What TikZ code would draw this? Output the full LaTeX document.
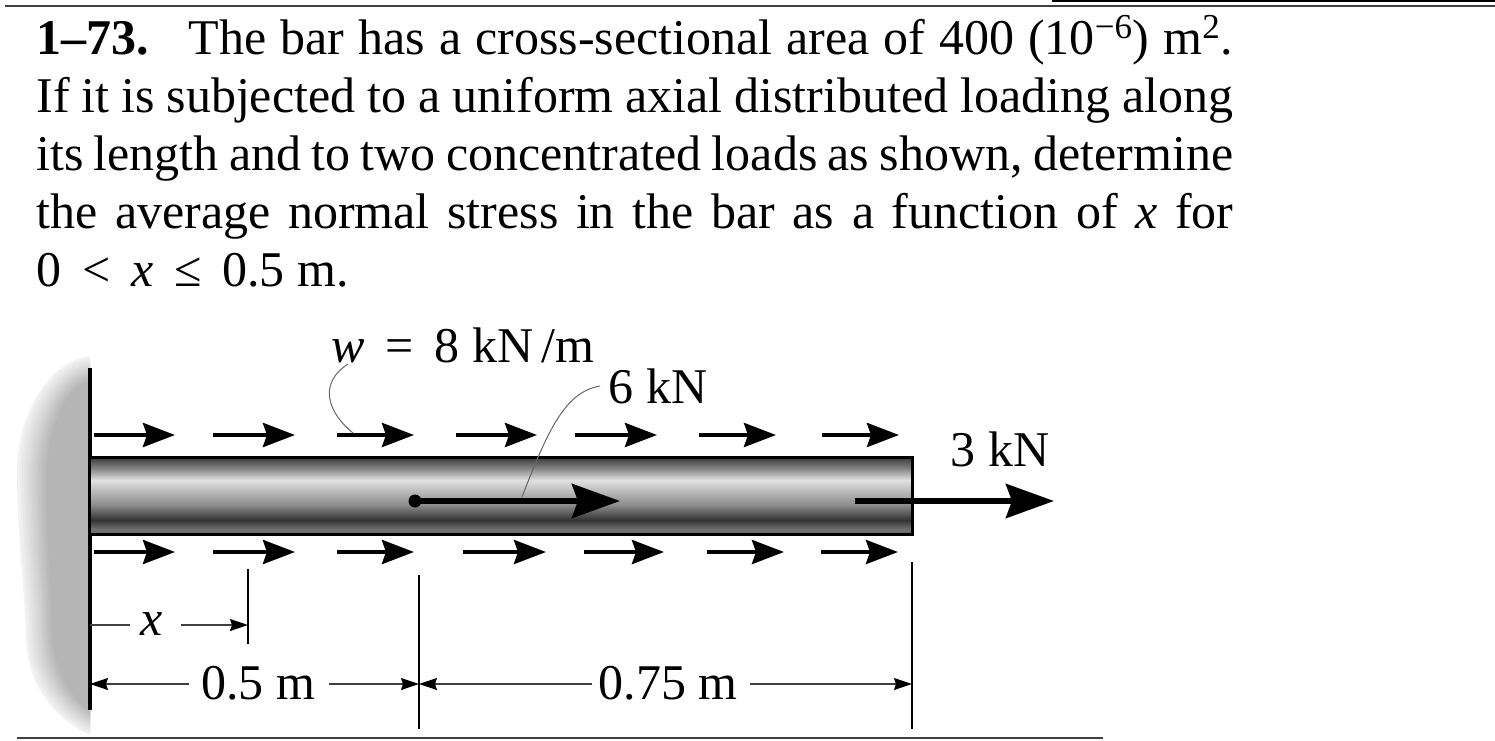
\documentclass[tikz,border=0pt]{standalone}
\usepackage{fontspec}
\setmainfont{Liberation Serif}
\usetikzlibrary{positioning,arrows.meta}
\pgfdeclareverticalshading{barshade}{100bp}{
  color(0bp)=(black!60); color(25bp)=(black!60); color(28bp)=(black!55); color(34bp)=(black!80);
  color(44bp)=(black!45); color(60bp)=(black!12); color(68bp)=(black!50); color(75bp)=(black!78); color(100bp)=(black!78)}
\tikzset{
  txt/.style={font=\fontsize{28.45}{33}\selectfont, inner sep=0pt},
  load/.style={line width=0.8mm, -{Stealth[length=6.4mm,width=4.8mm,inset=0.8mm]}},
  bigload/.style={line width=1.2mm, -{Stealth[length=9.6mm,width=6.8mm,inset=1.2mm]}},
  dimline/.style={line width=0.3mm, black!75, -{Stealth[length=3.6mm,width=2.4mm,inset=0.4mm,black]}},
  tick/.style={line width=0.3mm},
  leader/.style={line width=0.2mm, black!60},
  rulefine/.style={line width=0.4mm, black!75}
}
\begin{document}
\begin{tikzpicture}[x=0.2mm, y=-0.2mm]
    \useasboundingbox (0,0) rectangle (1495,741);
    % rules
    \coordinate (RA) at (5,6);
    \coordinate (RB) at (1495,6);
    \coordinate (RC) at (17,738);
    \coordinate (RD) at (1103,738);
    \coordinate (RE) at (1052,1);
    \coordinate (RF) at (1495,1);
    \draw [rulefine] (RA) -- (RB);
    \draw [rulefine] (RC) -- (RD);
    \draw [line width=0.4mm] (RE) -- (RF);
    % text
    \node [txt, anchor=north west, text width=23.94cm, align=justify] (problem) at (36,15) {%
      \fontsize{28.45}{33.0}\selectfont\baselineskip=1.16cm
      \textbf{1–73.}\hspace{0.8cm}The bar has a cross-sectional area of 400 (10\textsuperscript{−6}) m\textsuperscript{2}.\linebreak
      If it is subjected to a uniform axial distributed loading along\linebreak
      its length and to two concentrated loads as shown, determine\linebreak
      the average normal stress in the bar as a function of \textit{x} for\linebreak
      0\, < \,\textit{x}\, ≤ \,0.5 m.};
    % wall
    \foreach \i in {0,...,12} {
      \pgfmathsetmacro{\sx}{1-.40*\i/12}
      \pgfmathsetmacro{\sy}{1-.13*\i/12}
      \pgfmathsetmacro{\gr}{5+24*\i/12}
      \fill [black!\gr, shift={(90,546)}, xscale=\sx, yscale=\sy]
        (0,-190) .. controls (-45,-184) and (-73,-126) .. (-73,-76)
        .. controls (-73,-6) and (-65,44) .. (-64,94)
        .. controls (-62,144) and (-30,176) .. (0,189) -- cycle;
    }
    \coordinate (WA) at (90,368);
    \coordinate (WB) at (90,710);
    \draw [line width=0.7mm] (WA) -- (WB);
    % bar
    \node [draw, line width=0.6mm, shading=barshade, minimum width=16.44cm, minimum height=1.54cm, inner sep=0pt, outer sep=0pt] (bar) at (501,495.5) {};
    % distributed load
    \foreach \n/\a/\b in {1/94/175,2/213/295,3/337/414,4/456/537,5/575/657,6/699/776,7/822/899} {
      \coordinate (T\n) at (\a,435);
      \coordinate (U\n) at (\b,435);
      \draw [load] (T\n) -- (U\n);
    }
    \foreach \n/\a/\b in {1/94/175,2/213/295,3/337/414,4/463/546,5/584/664,6/707/784,7/821/898} {
      \coordinate (V\n) at (\a,552);
      \coordinate (W\n) at (\b,552);
      \draw [load] (V\n) -- (W\n);
    }
    % concentrated loads
    \coordinate (PA) at (415,501);
    \coordinate (PB) at (620,501);
    \coordinate (QA) at (855,501);
    \coordinate (QB) at (1054,501);
    \draw [bigload] (PA) -- (PB);
    \draw [bigload] (QA) -- (QB);
    \fill (PA) circle [radius=6.5];
    % labels
    \node [txt] (wlabel) at (463,345) {\textit{w}\, = \,8 kN\,/m};
    \node [txt] (six) at (658,386) {6 kN};
    \node [txt] (three) at (1000,449) {3 kN};
    \coordinate (LA) at (348,364);
    \coordinate (LB) at (353,433);
    \coordinate (LC) at (600,386);
    \coordinate (LD) at (522,497);
    \draw [leader] (LA) .. controls (320,382) and (325,410) .. (LB);
    \draw [leader] (LC) .. controls (565,392) and (548,430) .. (LD);
    % dimensions
    \coordinate (XA) at (248,569);
    \coordinate (XB) at (248,644);
    \coordinate (MA) at (419,575);
    \coordinate (MB) at (419,729);
    \coordinate (EA) at (912,562);
    \coordinate (EB) at (912,729);
    \draw [tick] (XA) -- (XB);
    \draw [tick] (MA) -- (MB);
    \draw [tick] (EA) -- (EB);
    \node [txt] (xlabel) at (152,624) {\textit{x}};
    \node [txt] (half) at (258,683) {0.5 m};
    \node [txt] (rest) at (668,683) {0.75 m};
    \coordinate (X0) at (90,625);
    \coordinate (X1) at (248,625);
    \coordinate (D0) at (90,684);
    \coordinate (D1) at (419,684);
    \coordinate (D2) at (912,684);
    \coordinate (GA) at (130,625);
    \coordinate (GB) at (181,625);
    \coordinate (GC) at (189,684);
    \coordinate (GD) at (329,684);
    \coordinate (GE) at (592,684);
    \coordinate (GF) at (750,684);
    \draw [line width=0.3mm, black!75] (X0) -- (GA);
    \draw [dimline] (GB) -- (X1);
    \draw [dimline] (GC) -- (D0);
    \draw [dimline] (GD) -- (D1);
    \draw [dimline] (GE) -- (D1);
    \draw [dimline] (GF) -- (D2);
\end{tikzpicture}
\end{document}
